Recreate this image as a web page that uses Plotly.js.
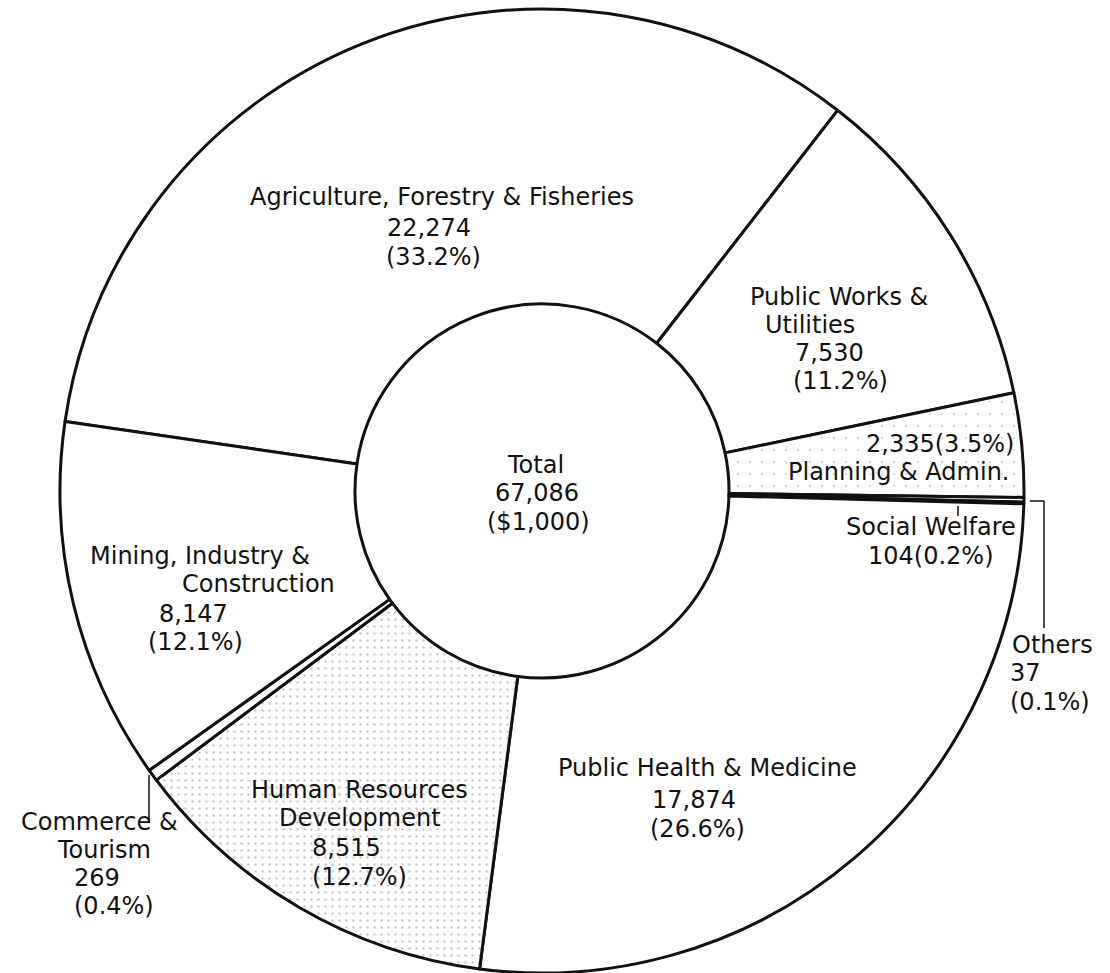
<!DOCTYPE html>
<html>
<head>
<meta charset="utf-8">
<script src="https://cdn.plot.ly/plotly-3.0.1.min.js"></script>
<style>
  html, body { margin: 0; padding: 0; background: #ffffff; overflow: hidden; }
  #chart { width: 1110px; height: 973px; }
</style>
</head>
<body>
<div id="chart"></div>
<script>
// ---------------- data ----------------
const categories = [
  'Agriculture, Forestry & Fisheries',
  'Public Works &<br>Utilities',
  'Planning & Admin.',
  'Social Welfare',
  'Others',
  'Public Health & Medicine',
  'Human Resources<br>Development',
  'Commerce &<br>Tourism',
  'Mining, Industry &<br>Construction'
];
const values = [22274, 7530, 2335, 104, 37, 17874, 8515, 269, 8147];
const totalValue = 67086;
const totalTitle = 'Total';
const totalUnit = '($1,000)';

// stipple textures (per slice)
const patternShapes = ['', '', '.', '', '', '', '.', '', ''];

// ---------------- layout helpers ----------------
const W = 1110, H = 973;
const px = x => x / W;
const py = y => 1 - y / H;

const fmtValue = v => v.toLocaleString('en-US');
const fmtPct = v => '(' + (v / totalValue * 100).toFixed(1) + '%)';

function partText(i, part) {
  const lines = categories[i].split('<br>');
  if (part === 'N0') return lines[0];
  if (part === 'N1') return lines[1];
  if (part === 'V') return fmtValue(values[i]);
  if (part === 'P') return fmtPct(values[i]);
  if (part === 'VP') return fmtValue(values[i]) + fmtPct(values[i]);
  return '';
}

// label placement: [slice index, part, x px, y px, xanchor]
const labelSpec = [
  [0, 'N0', 442, 197, 'center'], [0, 'V', 429, 228, 'center'], [0, 'P', 433, 257, 'center'],
  [1, 'N0', 839, 297, 'center'], [1, 'N1', 810, 325, 'center'], [1, 'V', 829, 353, 'center'], [1, 'P', 840, 381, 'center'],
  [2, 'VP', 1016, 444, 'right'], [2, 'N0', 1011, 472, 'right'],
  [3, 'N0', 1018, 527, 'right'], [3, 'VP', 996, 556, 'right'],
  [4, 'N0', 1010, 645, 'left'], [4, 'V', 1008, 673, 'left'], [4, 'P', 1008, 702, 'left'],
  [5, 'N0', 707, 768, 'center'], [5, 'V', 694, 800, 'center'], [5, 'P', 697, 829, 'center'],
  [6, 'N0', 359, 790, 'center'], [6, 'N1', 360, 818, 'center'], [6, 'V', 346, 848, 'center'], [6, 'P', 359, 877, 'center'],
  [7, 'N0', 99, 822, 'center'], [7, 'N1', 104, 850, 'center'], [7, 'V', 97, 878, 'center'], [7, 'P', 114, 906, 'center'],
  [8, 'N0', 200, 556, 'center'], [8, 'N1', 258, 584, 'center'], [8, 'V', 193, 614, 'center'], [8, 'P', 195, 642, 'center']
];

const FONT = 'DejaVu Sans, Arial, sans-serif';
const annotations = labelSpec.map(([i, part, x, y, xa]) => ({
  x: px(x), y: py(y), xref: 'paper', yref: 'paper',
  xanchor: xa, yanchor: 'middle', showarrow: false,
  text: partText(i, part),
  font: { family: FONT, size: 24, color: '#111111' }
}));

// centre text
[[totalTitle, 535, 465], [fmtValue(totalValue), 537, 493], [totalUnit, 538, 522]].forEach(([t, x, y]) => {
  annotations.push({
    x: px(x), y: py(y), xref: 'paper', yref: 'paper',
    xanchor: 'center', yanchor: 'middle', showarrow: false,
    text: t, font: { family: FONT, size: 24, color: '#111111' }
  });
});

// leader lines
const leaders = [
  [1030, 501, 1044, 501], [1044, 501, 1044, 628],   // Others
  [958, 506, 958, 516],                             // Social Welfare
  [149, 775, 149, 822]                              // Commerce & Tourism
];
const shapes = leaders.map(([x0, y0, x1, y1]) => ({
  type: 'line', xref: 'paper', yref: 'paper',
  x0: px(x0), y0: py(y0), x1: px(x1), y1: py(y1),
  line: { color: '#111111', width: 1.5 }
}));

// pie geometry
const cx = 542, cy = 491, R = 482;

const trace = {
  type: 'pie',
  labels: categories.map(c => c.replace('<br>', ' ')),
  values: values,
  sort: false,
  direction: 'clockwise',
  rotation: -81.7,
  hole: 0.388,
  textinfo: 'none',
  hoverinfo: 'none',
  showlegend: false,
  domain: { x: [px(cx - R), px(cx + R)], y: [0, (2 * R) / H] },
  marker: {
    colors: values.map(() => '#ffffff'),
    line: { color: '#111111', width: 3 },
    pattern: {
      shape: patternShapes,
      fgcolor: patternShapes.map((s, i) => i === 6 ? '#909090' : '#b8b8b8'),
      bgcolor: values.map(() => '#ffffff'),
      size: patternShapes.map((s, i) => i === 6 ? 7 : 12),
      solidity: patternShapes.map((s, i) => i === 6 ? 0.1 : 0.03),
      fillmode: 'overlay'
    }
  }
};

const layout = {
  width: W, height: H,
  margin: { l: 0, r: 0, t: 0, b: 0 },
  paper_bgcolor: '#ffffff',
  plot_bgcolor: '#ffffff',
  showlegend: false,
  annotations: annotations,
  shapes: shapes
};

Plotly.newPlot('chart', [trace], layout, { staticPlot: true, displayModeBar: false });
</script>
</body>
</html>
